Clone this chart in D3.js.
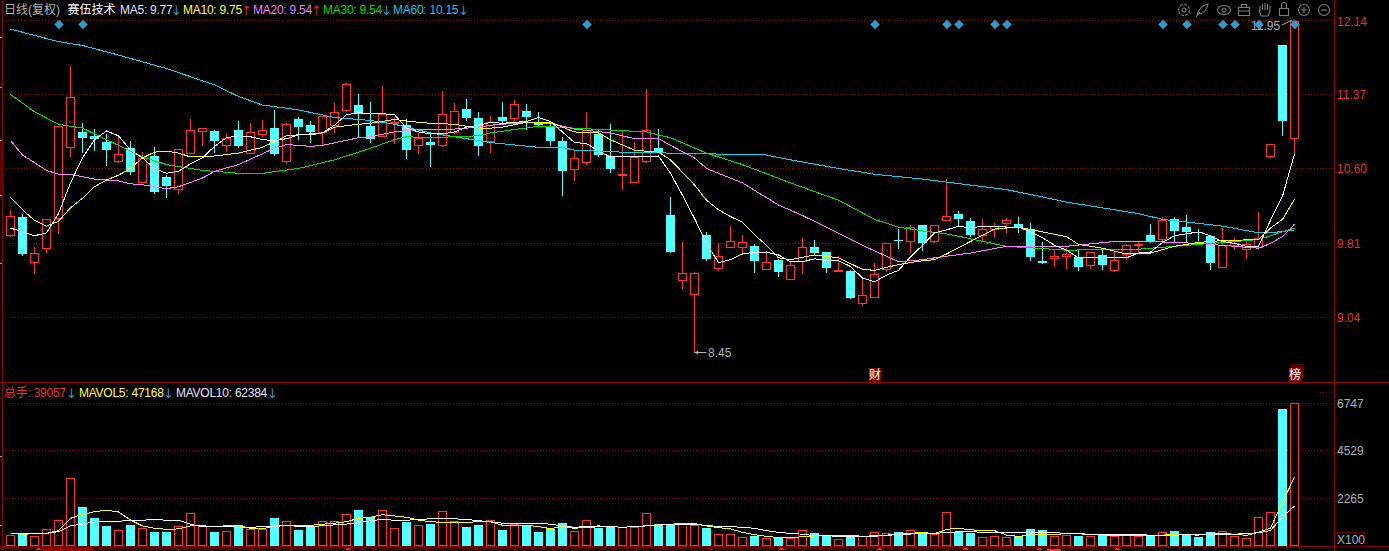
<!DOCTYPE html>
<html><head><meta charset="utf-8"><title>赛伍技术 日线</title>
<style>html,body{margin:0;padding:0;background:#000;overflow:hidden}svg{display:block}
text{font-family:"Liberation Sans",Arial,"Noto Sans CJK SC",sans-serif;font-size:12px}</style>
<script src="https://cdn.jsdelivr.net/npm/d3@7"></script></head><body><svg id="c" width="1389" height="551"></svg>
<script>
const opens=[9.91,10.09,9.63,9.77,10.08,10.82,10.98,10.94,10.88,10.68,10.81,10.46,10.73,10.51,10.38,10.76,10.99,10.99,10.85,11.00,
10.76,10.96,11.02,10.68,11.11,11.05,10.98,11.05,11.21,11.26,11.04,10.94,11.07,11.05,10.85,10.88,10.85,10.98,11.22,11.13,
10.88,11.14,11.12,11.20,11.08,11.04,10.89,10.60,10.67,10.96,10.73,10.53,10.46,10.68,10.81,10.12,9.44,9.29,9.91,9.57,
9.79,9.79,9.79,9.56,9.65,9.45,9.63,9.78,9.73,9.53,9.53,9.20,9.26,9.55,9.86,9.84,10.01,9.84,10.07,10.13,
10.05,9.91,9.97,10.03,10.02,9.97,9.64,9.67,9.69,9.68,9.59,9.70,9.55,9.71,9.80,9.91,9.86,10.07,9.99,9.94,
9.90,9.57,9.80,9.76,9.79,10.72,11.88,10.92];
const closes=[10.11,9.70,9.72,10.07,11.04,11.34,10.92,10.91,10.80,10.75,10.56,10.71,10.36,10.42,10.80,11.00,11.02,10.89,10.92,10.83,
10.98,11.00,10.75,11.06,11.03,10.98,11.15,11.19,11.48,11.17,10.90,11.17,11.08,10.79,10.92,10.85,11.17,11.20,11.13,10.84,
11.08,11.10,11.27,11.14,11.05,10.88,10.58,10.71,11.00,10.74,10.59,10.54,10.72,11.00,10.77,9.73,9.51,9.51,9.66,9.69,
9.85,9.84,9.63,9.63,9.53,9.60,9.78,9.72,9.56,9.54,9.25,9.28,9.50,9.82,9.85,9.99,9.82,10.01,10.11,10.08,
9.90,9.97,10.00,10.06,9.98,9.68,9.62,9.69,9.71,9.58,9.73,9.60,9.65,9.80,9.81,9.85,10.06,9.94,9.94,9.93,
9.62,9.80,9.82,9.81,9.88,10.85,11.09,12.14];
const highs=[10.17,10.13,9.78,10.07,11.04,11.67,11.07,11.01,10.96,10.94,10.89,10.77,10.82,10.53,10.80,11.11,11.02,11.00,10.96,11.09,
11.07,11.10,11.21,11.07,11.14,11.09,11.15,11.28,11.49,11.38,11.29,11.46,11.14,11.11,10.99,10.98,11.41,11.28,11.32,11.19,
11.15,11.29,11.31,11.27,11.19,11.08,10.93,10.78,11.19,11.00,11.06,11.00,10.88,11.43,11.01,10.30,9.84,9.52,9.94,9.82,
10.00,9.91,9.81,9.74,9.66,9.63,9.88,9.86,9.73,9.69,9.54,9.46,9.62,9.82,9.97,10.01,10.01,10.01,10.49,10.16,
10.08,10.07,10.03,10.08,10.09,10.03,9.84,9.74,9.77,9.76,9.73,9.75,9.73,9.81,9.83,10.02,10.10,10.09,10.12,9.97,
9.91,9.98,9.88,9.83,10.15,10.85,11.88,12.14];
const lows=[9.90,9.70,9.51,9.73,9.93,10.73,10.77,10.79,10.64,10.67,10.54,10.46,10.34,10.30,10.34,10.76,10.84,10.77,10.78,10.82,
10.76,10.94,10.74,10.66,10.91,10.88,10.84,10.98,11.20,10.93,10.88,10.94,10.86,10.71,10.76,10.63,10.83,10.97,11.10,10.74,
10.77,11.08,11.08,11.01,11.05,10.84,10.32,10.48,10.65,10.73,10.56,10.39,10.46,10.67,10.77,9.73,9.36,8.69,9.65,9.54,
9.79,9.73,9.52,9.56,9.48,9.45,9.51,9.70,9.52,9.53,9.25,9.18,9.26,9.53,9.77,9.73,9.75,9.84,10.07,10.01,
9.90,9.86,9.89,9.94,9.94,9.65,9.62,9.59,9.56,9.54,9.56,9.55,9.53,9.66,9.72,9.83,9.86,9.85,9.84,9.86,
9.55,9.57,9.76,9.67,9.79,10.72,10.95,10.75];
const volumes=[520,580,470,800,1230,3210,1850,1340,960,760,1010,850,680,680,940,1560,960,680,710,990,
800,800,1340,1180,770,930,1180,1180,1510,1710,1370,1700,850,1150,990,1050,1650,1180,910,1010,
1230,770,1040,1010,680,830,1100,720,1230,860,910,900,910,1560,1040,1040,1090,1020,880,570,
570,420,500,380,410,380,760,630,520,330,530,490,660,610,680,760,570,570,1600,690,
630,420,470,420,470,820,770,470,520,500,500,520,470,520,470,500,660,720,570,440,
680,710,470,380,1370,1600,6480,6750];
const ma5=[9.98,9.94,9.90,9.93,10.13,10.45,10.71,10.90,10.99,10.94,10.79,10.71,10.60,10.55,10.57,10.65,10.71,10.83,10.92,10.94,
10.93,10.90,10.89,10.91,10.95,10.95,10.97,11.05,11.16,11.18,11.17,11.17,11.16,11.02,10.98,10.96,10.96,10.98,11.03,11.05,
11.08,11.07,11.08,11.09,11.13,11.09,10.98,10.87,10.86,10.78,10.72,10.72,10.72,10.72,10.73,10.55,10.32,10.08,9.82,9.62,
9.65,9.71,9.73,9.73,9.70,9.63,9.63,9.66,9.64,9.64,9.58,9.46,9.42,9.49,9.54,9.68,9.80,9.93,9.96,10.00,
9.98,10.00,10.00,9.99,9.99,9.94,9.88,9.80,9.75,9.67,9.67,9.67,9.67,9.67,9.72,9.73,9.83,9.90,9.92,9.94,
9.90,9.84,9.82,9.79,9.79,10.06,10.31,10.75];
const ma10=[[0,10.30],[1,10.17],[2,10.06],[3,10.00],[4,10.05],[5,10.19],[6,10.29],[7,10.41],[8,10.48],[9,10.53],[10,10.60],[11,10.71],[12,10.77],[13,10.78],[14,10.76],[15,10.72],[17,10.73],[19,10.76],[21,10.82],[22,10.88],[23,10.94],[26,10.97],[27,11.03],[29,11.06],[30,11.07],[32,11.11],[34,11.08],[35,11.07],[37,11.06],[39,11.02],[40,11.02],[41,11.03],[43,11.08],[45,11.08],[47,10.98],[49,10.97],[50,10.90],[52,10.79],[54,10.77],[55,10.69],[56,10.56],[57,10.43],[58,10.27],[59,10.17],[60,10.10],[61,10.04],[62,9.91],[63,9.80],[64,9.67],[65,9.65],[67,9.70],[69,9.67],[71,9.55],[72,9.54],[74,9.60],[76,9.64],[77,9.65],[78,9.71],[80,9.84],[82,9.97],[84,9.99],[86,9.94],[88,9.89],[89,9.81],[91,9.77],[93,9.71],[95,9.72],[97,9.79],[99,9.83],[101,9.85],[104,9.86],[105,9.98],[106,10.07],[107,10.28]];
const ma20=[[0,10.89],[1,10.74],[3,10.58],[4,10.54],[5,10.54],[7,10.49],[9,10.47],[10,10.44],[11,10.43],[13,10.39],[14,10.41],[16,10.50],[17,10.57],[19,10.64],[22,10.81],[23,10.85],[25,10.83],[26,10.84],[29,10.92],[30,10.93],[32,10.98],[34,11.01],[37,11.01],[39,11.03],[40,11.05],[43,11.08],[45,11.07],[47,11.01],[50,10.97],[52,10.91],[54,10.91],[55,10.84],[57,10.71],[58,10.60],[61,10.45],[64,10.22],[66,10.11],[68,9.99],[71,9.80],[74,9.63],[76,9.65],[77,9.67],[80,9.72],[83,9.79],[88,9.79],[92,9.84],[95,9.84],[99,9.82],[102,9.79],[104,9.77],[105,9.82],[106,9.89],[107,10.02]];
const ma30=[[0,11.37],[2,11.19],[4,11.06],[6,11.02],[8,10.90],[11,10.72],[13,10.64],[16,10.58],[19,10.55],[21,10.55],[24,10.60],[27,10.69],[30,10.81],[32,10.90],[33,10.93],[35,10.92],[39,10.94],[40,10.97],[44,11.04],[47,11.02],[53,10.98],[55,10.92],[58,10.76],[61,10.64],[65,10.45],[69,10.27],[72,10.07],[74,9.99],[76,9.95],[78,9.92],[83,9.79],[88,9.75],[94,9.76],[99,9.81],[104,9.86],[105,9.90],[107,9.98]];
const ma60=[[0,12.05],[4,11.92],[6,11.88],[9,11.78],[13,11.64],[17,11.47],[19,11.35],[21,11.26],[24,11.21],[27,11.13],[30,11.10],[32,11.06],[35,10.97],[39,10.89],[40,10.87],[44,10.82],[46,10.82],[47,10.79],[51,10.77],[59,10.75],[63,10.74],[65,10.69],[69,10.60],[72,10.54],[76,10.49],[83,10.38],[85,10.33],[88,10.25],[94,10.13],[96,10.07],[101,10.00],[104,9.93],[105,9.93],[107,9.96]];
const mavol5=[[1,570],[3,610],[4,740],[5,1320],[6,1510],[7,1630],[8,1700],[9,1620],[10,1240],[11,960],[12,850],[13,800],[14,820],[15,960],[16,970],[17,930],[18,970],[19,970],[20,850],[21,820],[22,960],[23,990],[24,970],[25,990],[27,1090],[28,1160],[29,1320],[30,1370],[31,1490],[32,1430],[33,1370],[34,1240],[35,1160],[36,1130],[38,1130],[39,1160],[40,1160],[41,990],[43,990],[44,930],[45,830],[46,930],[47,850],[48,900],[50,930],[51,900],[52,930],[53,970],[54,1020],[56,1070],[57,1070],[58,960],[59,880],[60,820],[61,660],[62,550],[63,470],[64,410],[65,410],[66,450],[67,490],[68,490],[69,520],[70,520],[71,470],[72,500],[73,500],[74,570],[75,610],[76,660],[77,590],[78,800],[79,850],[80,780],[81,740],[82,740],[83,530],[84,470],[85,530],[86,580],[87,570],[88,590],[89,590],[90,550],[91,530],[94,530],[95,520],[96,530],[97,550],[99,530],[100,590],[101,610],[102,570],[103,520],[104,660],[105,850],[106,2100],[107,3260]];
const mavol10=[[0,610],[3,610],[4,690],[5,960],[6,1050],[7,1150],[9,1180],[10,1230],[11,1230],[12,1270],[13,1230],[14,1230],[15,1040],[16,930],[20,900],[23,970],[25,930],[27,1010],[28,1050],[29,1130],[31,1270],[32,1230],[33,1230],[34,1270],[36,1320],[38,1270],[39,1210],[40,1160],[41,1090],[44,1090],[45,1040],[46,960],[47,900],[49,960],[51,900],[53,960],[54,1010],[56,1040],[57,1040],[58,970],[61,900],[62,850],[63,740],[64,660],[65,610],[66,570],[67,500],[68,500],[69,470],[72,470],[73,530],[75,580],[76,590],[78,640],[79,690],[82,660],[84,660],[87,660],[88,590],[94,550],[96,500],[99,570],[102,570],[104,640],[105,740],[106,1400],[107,1900]];
const signalDays=[4,6,48,72,78,79,82,83,96,98,101,102,104,107];
const priceGrid=[12.14,11.37,10.60,9.82,9.05];
const priceLabels=["12.14","11.37","10.60","9.81","9.04"];
const volTicks=[6747,4529,2265];
const headerTop=[["日线(复权)","#b4b4b4",4],["赛伍技术","#ffffff",67.5],["MA5: 9.77","#e6e6ff",120],["MA10: 9.75","#ffff33",183],["MA20: 9.54","#e088ff",253],["MA30: 9.54","#00dc00",323],["MA60: 10.15","#10c8e8",393]];
const arrowsTop=[["↓","#2b96c8",176.5],["↑","#c8301e",246.5],["↑","#c8301e",316.5],["↓","#2b96c8",386.5],["↓","#2b96c8",463.5]];
const headerVol=[["总手: 39057","#e83232",4],["MAVOL5: 47168","#ffff33",79],["MAVOL10: 62384","#e6e6ff",176]];
const arrowsVol=[["↓","#2b96c8",71.5],["↓","#2b96c8",168.5],["↓","#2b96c8",272.5]];
const dateTicks=[178,252,290,352,426,476,514,552,636,710,785,883,969,1043,1121];
const dateMarks=[38,348,781,879,965,1039,1117];
const leftTicks=[37,87,140,195,263,456,525];

const W=1389,H=551,axisX=1334.5,DARK="#8c0000",GRID="#8c0000",UP="#ff3232",DOWN="#54ffff";
const n=closes.length;
const x=d3.scaleLinear().domain([0,n-1]).range([10.5,1294.5]);
const y=d3.scaleLinear().domain([12.14,8.69]).range([20.5,352]);
const yV=d3.scaleLinear().domain([0,6747]).range([546.3,403.3]);
const px=v=>Math.round(v)+0.5;
const svg=d3.select("#c");
svg.append("rect").attr("width",W).attr("height",H).attr("fill","#000");
const crisp=g=>g.attr("shape-rendering","crispEdges");
// frame
const frame=svg.append("g").call(crisp);
function seg(g,x1,y1,x2,y2,c,dash){const l=g.append("line").attr("x1",x1).attr("y1",y1).attr("x2",x2).attr("y2",y2).attr("stroke",c).attr("stroke-width",1);if(dash)l.attr("stroke-dasharray",dash);return l;}
seg(frame,2.5,0,2.5,H,DARK);
frame.append("rect").attr("x",0).attr("y",140).attr("width",2).attr("height",55).attr("fill","#5a0000");
leftTicks.forEach(t=>seg(frame,0,t+.5,2,t+.5,"#a0a0a0"));
seg(frame,axisX,0,axisX,H,DARK);
seg(frame,0,382.5,W,382.5,DARK);
seg(frame,0,546.5,W,546.5,DARK);
seg(frame,3,548.5,1121,548.5,"#5a0000");
// grid
const grid=svg.append("g").call(crisp);
grid.selectAll(".pg").data(priceGrid).join("line").attr("class","pg").attr("x1",3).attr("x2",axisX).attr("y1",d=>px(y(d)-.5)).attr("y2",d=>px(y(d)-.5)).attr("stroke",GRID).attr("stroke-dasharray","1 2");
grid.selectAll(".vg").data(volTicks).join("line").attr("class","vg").attr("x1",3).attr("x2",axisX).attr("y1",d=>px(yV(d)-.5)).attr("y2",d=>px(yV(d)-.5)).attr("stroke",GRID).attr("stroke-dasharray","1 2");
seg(grid,1317,392.5,1333,392.5,GRID,"1 2");
// date strip
const strip=svg.append("g").call(crisp);
strip.selectAll(".dt").data(dateTicks).join("line").attr("x1",d=>d+.5).attr("x2",d=>d+.5).attr("y1",548).attr("y2",551).attr("stroke",DARK);
strip.selectAll(".dm").data(dateMarks).join("path").attr("d",d=>`M${d-1} 548h3v1h1v1h-5v-1h1z`).attr("fill","#ff2020");
strip.append("rect").attr("x",42).attr("y",548).attr("width",51).attr("height",3).attr("fill",DARK);
strip.append("rect").attr("x",1047).attr("y",549).attr("width",14).attr("height",2).attr("fill","#ff3232");
// volume
const idx=d3.range(n), isUp=i=>closes[i]>=opens[i];
const vol=svg.append("g").call(crisp);
vol.selectAll("rect").data(idx).join("rect")
 .attr("x",i=>isUp(i)?x(i)-4:x(i)-4.5).attr("width",i=>isUp(i)?8:9)
 .attr("y",i=>isUp(i)?px(yV(volumes[i])):Math.round(yV(volumes[i])))
 .attr("height",i=>isUp(i)?545.5-px(yV(volumes[i])):546-Math.round(yV(volumes[i])))
 .attr("fill",i=>isUp(i)?"#000":DOWN).attr("stroke",i=>isUp(i)?UP:"none");
// candles
const cand=svg.append("g").call(crisp);
cand.selectAll(".w").data(idx).join("line").attr("class","w")
 .attr("x1",x).attr("x2",x).attr("y1",i=>Math.round(y(highs[i]))).attr("y2",i=>Math.round(y(lows[i]))+1)
 .attr("stroke",i=>isUp(i)?UP:DOWN);
const bodyH=i=>Math.abs(y(opens[i])-y(closes[i]));
cand.selectAll(".b").data(idx).join("rect").attr("class","b")
 .attr("x",i=>isUp(i)?x(i)-4:x(i)-4.5).attr("width",i=>isUp(i)?8:9)
 .attr("y",i=>isUp(i)?px(y(closes[i])):Math.round(y(opens[i])))
 .attr("height",i=>isUp(i)?Math.max(Math.round(bodyH(i)),bodyH(i)<1.6?0:1):Math.max(Math.round(bodyH(i)),1))
 .attr("fill",i=>isUp(i)?"#000":DOWN).attr("stroke",i=>isUp(i)?UP:"none");
// MA lines
const pl=d3.line().x(d=>x(d[0])).y(d=>y(d[1]));
const vl=d3.line().x(d=>x(d[0])).y(d=>yV(d[1]));
const lines=svg.append("g").attr("fill","none").attr("stroke-width",1).attr("shape-rendering","crispEdges");
[[ma60,"#00d8f0"],[ma30,"#00e000"],[ma20,"#ff80ff"],[ma10,"#ffff00"],[ma5.map((v,i)=>[i,v]),"#ffffff"]].forEach(([d,c])=>lines.append("path").attr("d",pl(d)).attr("stroke",c));
lines.append("path").attr("d",vl(mavol5)).attr("stroke","#ffff00");
lines.append("path").attr("d",vl(mavol10)).attr("stroke","#ffffff");
// high/low labels
const lab=svg.append("g");
const lowY=Math.round(y(lows[57]))+.5, lx=x(57);
lab.append("path").attr("d",`M${lx} ${lowY}H${lx+12}`).attr("stroke","#b4b4b4").attr("fill","none");
lab.append("path").attr("d",`M${lx+.5} ${lowY}l3 -2v4z`).attr("fill","#b4b4b4");
lab.append("text").attr("x",lx+13.5).attr("y",lowY+4.5).attr("fill","#a8b0b8").text("8.45");
lab.append("text").attr("x",1251).attr("y",30).attr("fill","#a8b0b8").text("11.95");
lab.append("path").attr("d","M1282 25L1292 20").attr("stroke","#b4b4b4").attr("fill","none");
// signal diamonds
svg.append("g").selectAll("path").data(signalDays).join("path")
 .attr("transform",d=>`translate(${x(d)+.5},24.5) rotate(45)`).attr("d",d3.symbol(d3.symbolSquare,46)).attr("fill","#3399cc");
// axis labels
svg.append("g").selectAll("text").data(priceGrid).join("text").attr("x",1337).attr("y",d=>y(d)+5).attr("fill","#e63030").text((d,i)=>priceLabels[i]);
svg.append("g").selectAll("text").data(volTicks).join("text").attr("x",1337).attr("y",d=>yV(d)+4.5).attr("fill","#a8b0b8").text(d=>d);
svg.append("rect").attr("x",1335.5).attr("y",532.5).attr("width",29).attr("height",14).attr("fill","#000").attr("stroke","#5a0000").attr("shape-rendering","crispEdges");
svg.append("text").attr("x",1337).attr("y",544).attr("fill","#a8b0b8").text("X100");
// headers
const spacing=d=>/^[A-Z]|总手/.test(d[0])?"-0.25px":null;
svg.append("g").selectAll("text").data(headerTop).join("text").attr("x",d=>d[2]).attr("y",14).attr("fill",d=>d[1]).attr("letter-spacing",spacing).text(d=>d[0]);
svg.append("g").selectAll("text").data(headerVol).join("text").attr("x",d=>d[2]).attr("y",397).attr("fill",d=>d[1]).attr("letter-spacing",spacing).text(d=>d[0]);
const arrowStyle=s=>s.attr("text-anchor","middle").attr("x",d=>d[2]).attr("fill",d=>d[1]).style("font-family","'DejaVu Sans'").style("font-size","13px").text(d=>d[0]);
svg.append("g").selectAll("text").data(arrowsTop).join("text").attr("y",15).call(arrowStyle);
svg.append("g").selectAll("text").data(arrowsVol).join("text").attr("y",398).call(arrowStyle);
// event tags
svg.append("rect").attr("x",1291).attr("y",364).attr("width",13).attr("height",14).attr("fill","#5a0000");
[[869,"财"],[1289,"榜"]].forEach(([tx,t])=>{svg.append("rect").attr("x",tx).attr("y",368).attr("width",12).attr("height",13).attr("fill",DARK);
 svg.append("text").attr("x",tx).attr("y",379).attr("fill","#fff").text(t);});
// toolbar icons
const tb=svg.append("g").attr("fill","none").attr("stroke","#7d7d7d").attr("stroke-width",1.1);
tb.append("circle").attr("cx",1184).attr("cy",10).attr("r",5.5).attr("stroke-dasharray","3 1.2");tb.append("circle").attr("cx",1184).attr("cy",10).attr("r",2);
tb.append("path").attr("d","M1197 15C1199 8 1203 5 1208 4C1207 10 1203 14 1199 14M1196 17L1200 12");
tb.append("ellipse").attr("cx",1224).attr("cy",10).attr("rx",6.5).attr("ry",4.5);tb.append("circle").attr("cx",1224).attr("cy",10).attr("r",2);
tb.append("rect").attr("x",1238.5).attr("y",7.5).attr("width",11).attr("height",8);tb.append("path").attr("d","M1241.5 7V4.5H1246.5V7M1238.5 11H1249.5");
tb.append("path").attr("d","M1259 10L1261 16H1268L1270 11V6M1267.5 10V4M1265 10V3M1262.5 10V4M1260 11V6");
tb.append("rect").attr("x",1279.5).attr("y",8.5).attr("width",9).attr("height",7);tb.append("path").attr("d","M1281.5 8V5A2.5 2.5 0 0 1 1286.5 5V8");
tb.append("circle").attr("cx",1304).attr("cy",10).attr("r",5.5);tb.append("path").attr("d","M1301 10H1307M1304 7V13");
tb.append("circle").attr("cx",1324).attr("cy",10).attr("r",5.5);tb.append("path").attr("d","M1321 10H1327");
</script></body></html>
